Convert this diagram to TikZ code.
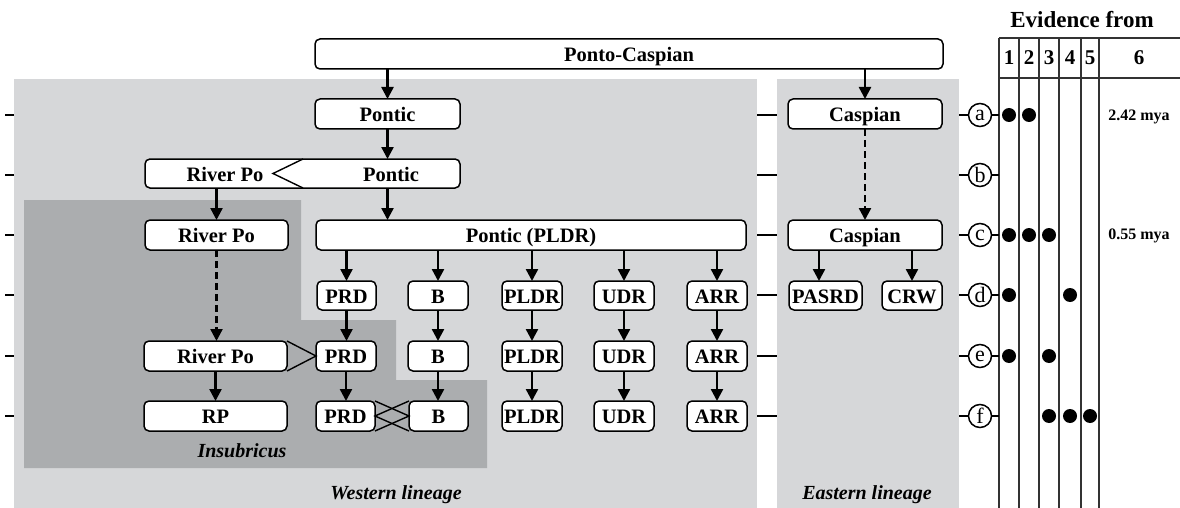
\documentclass[tikz,border=0pt]{standalone}
\usepackage{fontspec}
\setmainfont{Liberation Serif}
\usetikzlibrary{arrows.meta}
\definecolor{lightpanel}{HTML}{D6D7D9}
\definecolor{darkpanel}{HTML}{ABADAF}
\tikzset{
 txt/.style={font=\bfseries\fontsize{20.5}{22}\selectfont, text height=16pt, text depth=1pt},
 box/.style={txt, draw=black, line width=1.5pt, rounded corners=5pt, fill=white, inner sep=1pt, outer sep=0pt},
 lbl/.style={txt, inner sep=0pt},
 arr/.style={line width=2.4pt, -{Triangle[width=12pt,length=12pt]}},
 darr/.style={arr, dash pattern=on 7pt off 4pt},
 tick/.style={line width=1.4pt},
 chev/.style={line width=1.4pt},
 rowcirc/.style={circle, draw, line width=1.5pt, minimum size=23pt, inner sep=0pt, fill=white, font=\fontsize{22}{22}\selectfont},
 dot/.style={circle, fill=black, minimum size=14pt, inner sep=0pt},
 tabline/.style={line width=1.4pt, draw=black!80},
 lineage/.style={font=\bfseries\itshape\fontsize{20}{22}\selectfont, inner sep=0pt},
 hdr/.style={font=\bfseries\fontsize{21}{22}\selectfont, inner sep=0pt},
 mya/.style={font=\bfseries\fontsize{16}{18}\selectfont, inner sep=0pt},
}
\newcommand\mybox[6]{\node[box,minimum width={(#4-#2)*1pt},minimum height={(#5-#3)*1pt}] (#1) at ({(#2+#4)/2},{(#3+#5)/2}) {#6};}
\begin{document}
\begin{tikzpicture}[x=1pt,y=-1pt]
\useasboundingbox (0,0) rectangle (1180,508);
% panels
\fill[lightpanel] (14,79) rectangle (757,508);
\fill[lightpanel] (777,79) rectangle (959,508);
\fill[darkpanel] (24,200) -- (301,200) -- (301,320) -- (396,320) -- (396,380) -- (487,380) -- (487,468) -- (24,468) -- cycle;
% ticks
\foreach \y in {115,175,235,295,356,416}{
  \draw[tick] (5,\y) -- (14,\y);
  \draw[tick] (757,\y) -- (777,\y);
}
% boxes
\mybox{PC}{315}{39}{943}{69}{Ponto-Caspian}
\mybox{Pa}{315}{99}{460}{129}{Pontic}
\mybox{Ca}{788}{99}{942}{129}{Caspian}
\mybox{Pb}{145}{159}{460}{188}{}
\node[lbl] (RPbt) at (225,174) {River Po};
\node[lbl] (Pbt) at (391,174) {Pontic};
\mybox{RPc}{145}{220}{288}{250}{River Po}
\mybox{PL}{316}{220}{746}{250}{Pontic (PLDR)}
\mybox{Cc}{788}{220}{942}{250}{Caspian}
\mybox{PRDd}{317}{281}{376}{310}{PRD}
\mybox{Bd}{408}{281}{468}{310}{B}
\mybox{PLDRd}{502}{281}{562}{310}{PLDR}
\mybox{UDRd}{594}{281}{654}{310}{UDR}
\mybox{ARRd}{687}{281}{747}{310}{ARR}
\mybox{PASRD}{789}{281}{862}{310}{PASRD}
\mybox{CRW}{882}{281}{942}{310}{CRW}
\mybox{RPe}{144}{341}{287}{371}{River Po}
\mybox{PRDe}{316}{341}{376}{371}{PRD}
\mybox{Be}{408}{341}{468}{371}{B}
\mybox{PLDRe}{502}{341}{562}{371}{PLDR}
\mybox{UDRe}{594}{341}{654}{371}{UDR}
\mybox{ARRe}{687}{341}{747}{371}{ARR}
\mybox{RPf}{144}{401}{287}{431}{RP}
\mybox{PRDf}{316}{401}{375}{431}{PRD}
\mybox{Bf}{409}{401}{468}{431}{B}
\mybox{PLDRf}{502}{401}{562}{431}{PLDR}
\mybox{UDRf}{594}{401}{654}{431}{UDR}
\mybox{ARRf}{687}{401}{747}{431}{ARR}
% chevrons
\draw[chev] ([xshift=158pt]Pb.north west) -- ([xshift=128pt]Pb.west) -- ([xshift=158pt]Pb.south west);
\draw[chev] (RPe.north east) -- (PRDe.west) -- (RPe.south east);
\draw[chev] (PRDf.north east) -- (Bf.west) -- (PRDf.south east);
\draw[chev] (Bf.north west) -- (PRDf.east) -- (Bf.south west);
% arrows
\draw[arr] (PC.south -| Pa) -- (Pa.north);
\draw[arr] (PC.south -| Ca) -- (Ca.north);
\draw[arr] (Pa.south) -- (Pa.south |- Pb.north);
\draw[arr] (RPc.north |- Pb.south) -- (RPc.north);
\draw[arr] (Pa.south |- Pb.south) -- (Pa.south |- PL.north);
\draw[darr] (RPc.south) -- (RPc.south |- RPe.north);
\draw[darr] (Ca.south) -- (Cc.north);
\foreach \n in {PRDd,Bd,PLDRd,UDRd,ARRd}{
  \draw[arr] (\n.north |- PL.south) -- (\n.north);
}
\draw[arr] ([xshift=-6.5pt]PASRD.north |- Cc.south) -- ([xshift=-6.5pt]PASRD.north);
\draw[arr] (CRW.north |- Cc.south) -- (CRW.north);
\draw[arr] (PRDd.south) -- (PRDd.south |- PRDe.north);
\draw[arr] (Bd.south) -- (Be.north);
\draw[arr] (PLDRd.south) -- (PLDRe.north);
\draw[arr] (UDRd.south) -- (UDRe.north);
\draw[arr] (ARRd.south) -- (ARRe.north);
\draw[arr] (RPe.south) -- (RPf.north);
\draw[arr] (PRDe.south) -- (PRDe.south |- PRDf.north);
\draw[arr] (Be.south) -- (Be.south |- Bf.north);
\draw[arr] (PLDRe.south) -- (PLDRf.north);
\draw[arr] (UDRe.south) -- (UDRf.north);
\draw[arr] (ARRe.south) -- (ARRf.north);
% lineage labels
\node[lineage] (ins) at (242,451) {Insubricus};
\node[lineage] (west) at (396,495) {Western lineage};
\node[lineage] (east) at (867,495) {Eastern lineage};
% table
\draw[tabline] (999,38) -- (1180,38);
\draw[tabline] (999,78) -- (1180,78);
\foreach \x in {999,1019,1039,1059,1081,1099}{
  \draw[tabline] (\x,38) -- (\x,508);
}
\node[font=\bfseries\fontsize{23}{24}\selectfont, inner sep=0pt] (ev) at (1082,20) {Evidence from};
\node[hdr] (h1) at (1009,58) {1};
\node[hdr] (h2) at (1029,58) {2};
\node[hdr] (h3) at (1049,58) {3};
\node[hdr] (h4) at (1070,58) {4};
\node[hdr] (h5) at (1090,58) {5};
\node[hdr] (h6) at (1139,58) {6};
% row circles
\foreach \l/\y in {a/115,b/175,c/235,d/295,e/356,f/416}{
  \node[rowcirc] (c\l) at (980,\y) {\l};
  \draw[tick] (959,\y) -- (c\l.west);
  \draw[tick] (c\l.east) -- (999,\y);
}
% dots
\foreach \x/\y in {1009/115,1029/115, 1009/235,1029/235,1049/235, 1009/295,1070/295, 1009/356,1049/356, 1049/416,1070/416,1090/416}{
  \node[dot] at (\x,\y) {};
}
\node[mya] (m1) at (1139,117) {2.42 mya};
\node[mya] (m2) at (1139,236) {0.55 mya};
\end{tikzpicture}
\end{document}
